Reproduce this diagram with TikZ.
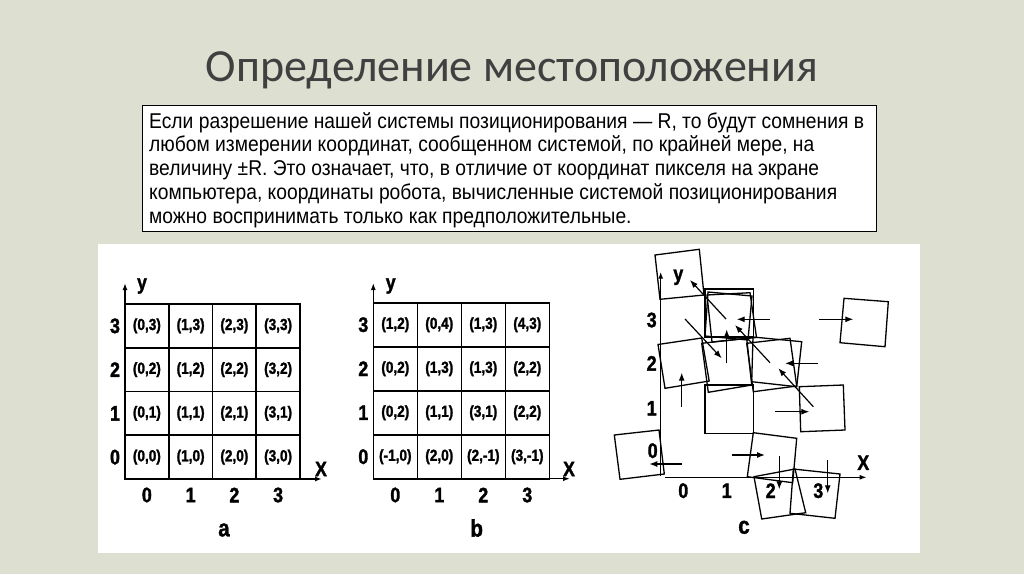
\documentclass[tikz,border=0pt]{standalone}
\usepackage{fontspec}
\setmainfont{Liberation Sans}
\newfontfamily\titlefont{Carlito}
\newfontfamily\narrowfont{Liberation Sans}[FakeStretch=0.9]
\newfontfamily\cond{Liberation Sans}[UprightFont={* Bold}, FakeStretch=0.85, FakeBold=1.5]
\usetikzlibrary{arrows.meta}
\definecolor{bgc}{RGB}{221,223,209}
\definecolor{titlec}{RGB}{64,64,64}
\begin{document}
\begin{tikzpicture}[x=1pt,y=-1pt,
  cell/.style={draw, line width=1.6pt, minimum size=#1, inner sep=0pt,
    font=\cond\fontsize{16}{16}\selectfont},
  cell/.default=43.75pt,
  lab/.style={inner sep=0pt, font=\cond\fontsize{21}{21}\selectfont},
  captext/.style={inner sep=0pt, font=\cond\fontsize{24}{24}\selectfont},
  axis/.style={line width=1.5pt, -{Latex[length=7pt,width=5pt]}},
  sq/.style={line width=1.3pt, line join=miter},
  arr/.style={line width=1.2pt, -{Latex[length=8pt,width=6pt]}}]
\useasboundingbox (0,0) rectangle (1024,574);
\fill[bgc] (0,0) rectangle (1024,574);
% title
\node[font=\titlefont\fontsize{46}{50}\selectfont, text=titlec] (title) at (512,70) {Определение местоположения};
% text box
\draw[line width=0.8pt, fill=white] (142,105) rectangle (876,231);
\node[anchor=north west, inner sep=0pt, align=left, font=\narrowfont\fontsize{21.4}{23.75}\selectfont] (body) at (149,112)
{Если разрешение нашей системы позиционирования — R, то будут сомнения в\\
любом измерении координат, сообщенном системой, по крайней мере, на\\
величину ±R. Это означает, что, в отличие от координат пикселя на экране\\
компьютера, координаты робота, вычисленные системой позиционирования\\
можно воспринимать только как предположительные.};
% white panel
\fill[white] (98,244) rectangle (920,553);
% ---------- panel a ----------
\foreach \i in {0,...,3}{
  \foreach \j in {0,...,3}{
    \node[cell] (a\i\j) at ({125+43.75*(\i+0.5)},{479-43.75*(\j+0.5)}) {(\i,\j)};
  }
  \node[lab] (ar\i) at (115,{479-43.75*(\i+0.5)}) {\i};
  \node[lab] (ac\i) at ({125+43.75*(\i+0.5)},495) {\i};
}
\coordinate (aO) at (125,479);
\coordinate (aY) at (125,283);
\coordinate (aX) at (322,479);
\draw[axis] (aO) -- (aY);
\draw[axis] (aO) -- (aX);
\node[lab] (ay) at (142,286) {y};
\node[lab] (ax) at (321,469) {X};
\node[captext] (acap) at (224,530) {a};
% ---------- panel b ----------
\foreach \i/\j/\t in {0/3/{(1,2)},1/3/{(0,4)},2/3/{(1,3)},3/3/{(4,3)},
                     0/2/{(0,2)},1/2/{(1,3)},2/2/{(1,3)},3/2/{(2,2)},
                     0/1/{(0,2)},1/1/{(1,1)},2/1/{(3,1)},3/1/{(2,2)},
                     0/0/{(-1,0)},1/0/{(2,0)},2/0/{(2,-1)},3/0/{(3,-1)}}{
  \node[cell=44pt] (b\i\j) at ({373.3+44*(\i+0.5)},{478.7-44*(\j+0.5)}) {\t};
}
\foreach \i in {0,...,3}{
  \node[lab] (br\i) at (363.3,{478.7-44*(\i+0.5)}) {\i};
  \node[lab] (bc\i) at ({373.3+44*(\i+0.5)},495) {\i};
}
\coordinate (bO) at (373.3,478.7);
\coordinate (bY) at (373.3,283);
\coordinate (bX) at (570,478.7);
\draw[axis] (bO) -- (bY);
\draw[axis] (bO) -- (bX);
\node[lab] (by) at (390.7,286) {y};
\node[lab] (bx) at (569,469) {X};
\node[captext] (bcap) at (476.7,528) {b};
% ---------- panel c ----------
% squares
\draw[sq] (655,255) -- (699.3,249.3) -- (704,295) -- (660,299.3) -- cycle;
\draw[sq] (658,344.5) -- (701.7,338) -- (709.2,381) -- (665,388.3) -- cycle;
\draw[sq] (701.7,343.3) -- (746.7,338.3) -- (751.7,385) -- (708.3,392.3) -- cycle;
\draw[sq] (705,289) rectangle (753.3,337);
\draw[sq] (707,295) -- (750,292.7) -- (756.5,337.5) -- (712,342) -- cycle;
\draw[sq] (708,292) -- (752,296) -- (748,340) -- (705,336) -- cycle;
\draw[sq] (746.7,343.3) -- (790,338.3) -- (796.7,386) -- (753.3,391.7) -- cycle;
\draw[sq] (753,337) -- (801.7,341.7) -- (796.7,386.7) -- (751.7,381.7) -- cycle;
\draw[sq] (705,385) rectangle (753.3,433.3);
\draw[sq] (799.3,386.7) -- (843.3,385) -- (845,430) -- (800.7,431.7) -- cycle;
\draw[sq] (844,298.3) -- (888.3,301.7) -- (885,346.7) -- (840,342.7) -- cycle;
\draw[sq] (614.3,435) -- (659,430) -- (664.3,474) -- (620,479.3) -- cycle;
\draw[sq] (753.3,432.7) -- (796.7,438.3) -- (792.7,482.7) -- (747.3,476.7) -- cycle;
\draw[sq] (754,476.7) -- (795,469) -- (805.7,512.7) -- (761.7,519) -- cycle;
\draw[sq] (793.3,469) -- (840,474) -- (835,518.3) -- (790,513.3) -- cycle;
% axes
\coordinate (cOy) at (660.7,476);
\coordinate (cY) at (660.7,271.7);
\coordinate (cOx) at (665,477.3);
\coordinate (cX) at (866.7,477.3);
\draw[axis] (cOy) -- (cY);
\draw[axis] (cOx) -- (cX);
% arrows
\foreach \n/\sx/\sy/\ex/\ey in {
  1/685/319/721.7/358.3, 2/726/319/690/280, 3/770/319.3/736.7/319.3,
  4/819/319.3/853.3/319.3, 5/681.7/406.7/681.7/372.7, 6/726.7/363.3/726.7/329.3,
  7/770/362.7/735/325, 8/818.3/363.3/785/363.3, 9/775/411.7/809.3/411.7,
  10/813.3/406.7/778.3/368.3, 11/681.7/464/649.3/464, 12/731.7/455/765/455,
  13/779.3/456/779.3/489.3, 14/827.7/460/827.7/493.3}{
  \coordinate (s\n) at (\sx,\sy);
  \coordinate (e\n) at (\ex,\ey);
  \draw[arr] (s\n) -- (e\n);
}
% labels
\node[lab] (cy) at (678.3,277.3) {y};
\node[lab] (cx) at (863.3,462.7) {X};
\node[lab] (cr3) at (651.7,320) {3};
\node[lab] (cr2) at (651.7,363.3) {2};
\node[lab] (cr1) at (651.7,408.3) {1};
\node[lab] (cr0) at (652.7,450.7) {0};
\node[lab] (cc0) at (683.3,490.7) {0};
\node[lab] (cc1) at (726.7,490.7) {1};
\node[lab] (cc2) at (770.7,490.7) {2};
\node[lab] (cc3) at (818.3,490.7) {3};
\node[captext] (ccap) at (744,527.3) {c};
\end{tikzpicture}
\end{document}
